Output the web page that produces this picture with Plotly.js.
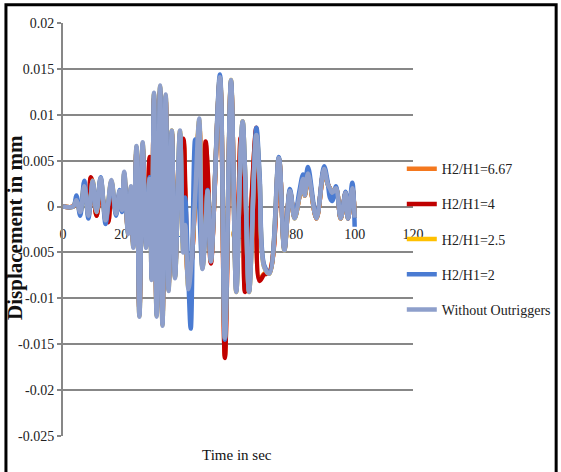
<!DOCTYPE html>
<html>
<head>
<meta charset="utf-8">
<script src="https://cdn.plot.ly/plotly-3.0.1.min.js"></script>
<style>html,body{margin:0;padding:0;background:#fff;}#chart{width:561px;height:472px;}</style>
</head>
<body>
<div id="chart"></div>
<script>
// Time (s) shared by all series
const time = [0, 3.5, 4.6, 5.9, 7.3, 8.7, 9.5, 10.2, 11.5, 12.9, 14.6, 15.5, 16.6, 18.2, 19.4, 20.2, 21.0, 22.3, 23.3, 24.1,
  25.2, 26.2, 27.3, 28.5, 29.7, 30.4, 31.2, 32.1, 33.3, 34.1, 35.2, 36.2, 37.3, 38.4, 40.1, 41.2, 41.9, 43.0, 43.8, 45.3,
  46.7, 47.8, 48.9, 49.6, 50.7, 53.8, 55.5, 57.6, 59.4, 60.9, 61.6, 62.4, 63.8, 66.3, 67.4, 69.0, 70.8, 74.0, 75.9, 77.8, 79.4,
  81.0, 82.3, 82.9, 84.0, 86.9, 89.5, 90.7, 91.5, 92.3, 93.6, 95.2, 96.9, 97.7, 99.2, 100.0];

const withoutOutriggers = [0, 0, 0.0007, -0.0006, 0.0022, -0.0010, 0.0010, 0.0028, -0.0006, 0.0031, -0.0015, 0.0004, 0.0029, -0.0008, 0.0017, -0.0004, 0.0038, -0.0030, 0.0022, -0.0045,
  0.0066, -0.0120, 0.0070, -0.0045, 0.0030, -0.0080, 0.0124, -0.0120, 0.0132, -0.0130, 0.0122, -0.0092, 0.0083, -0.0078, 0.0083, -0.0050, -0.0020, -0.0090, -0.0070, 0.0010,
  0.0096, -0.0068, -0.0020, 0.0017, -0.0060, 0.0141, -0.0143, 0.0138, -0.0093, 0.0060, 0.0093, 0.0040, -0.0093, 0.0078, 0.0030, -0.0066, -0.0073, 0.0053, -0.0048, 0.0017, -0.0013,
  0.0010, 0.0030, 0.0012, 0.0036, -0.0013, 0.0041, 0.0025, 0.0020, 0.0015, 0.0020, -0.0013, 0.0015, -0.0013, 0.0020, -0.0012];

const h2 = [0, 0, 0.0012, -0.0010, 0.0028, -0.0013, 0.0008, 0.0026, -0.0004, 0.0032, -0.0019, 0.0002, 0.0027, -0.0010, 0.0018, -0.0006, 0.0036, -0.0028, 0.0020, -0.0042,
  0.0064, -0.0118, 0.0068, -0.0043, 0.0032, -0.0078, 0.0122, -0.0118, 0.0130, -0.0128, 0.0120, -0.0090, 0.0082, -0.0076, 0.0080, -0.0040, 0.0010, -0.0080, -0.0133, 0.0073,
  0.0000, -0.0066, -0.0020, 0.0018, -0.0058, 0.0144, -0.0145, 0.0137, -0.0092, 0.0060, 0.0092, 0.0040, -0.0092, 0.0086, 0.0035, -0.0064, -0.0072, 0.0054, -0.0047, 0.0019, -0.0012,
  0.0016, 0.0035, 0.0022, 0.0043, -0.0012, 0.0044, 0.0028, 0.0010, 0.0006, 0.0022, -0.0012, 0.0016, -0.0013, 0.0026, -0.0022];

const h4 = [0, 0, 0.0005, -0.0004, 0.0018, 0.0005, 0.0032, 0.0025, -0.0010, 0.0016, -0.0008, -0.0017, 0.0012, -0.0004, 0.0014, -0.0003, 0.0030, -0.0026, 0.0018, -0.0040,
  0.0060, -0.0112, 0.0064, -0.0040, 0.0054, -0.0060, 0.0118, -0.0112, 0.0126, -0.0122, 0.0116, -0.0086, 0.0080, -0.0070, 0.0060, 0.0074, 0.0020, -0.0080, -0.0070, 0.0008,
  0.0090, -0.0040, 0.0071, 0.0040, -0.0062, 0.0138, -0.0165, 0.0135, -0.0080, 0.0075, 0.0020, -0.0093, -0.0040, 0.0086, -0.0081, -0.0074, -0.0072, 0.0052, -0.0046, 0.0016, -0.0012,
  0.0010, 0.0030, 0.0012, 0.0035, -0.0013, 0.0040, 0.0025, 0.0020, 0.0015, 0.0019, -0.0013, 0.0015, -0.0013, 0.0019, -0.0012];

const h667 = [0, 0, 0.0005, -0.0004, 0.0018, 0.0004, 0.0031, 0.0025, -0.0010, 0.0017, -0.0008, -0.0016, 0.0012, -0.0004, 0.0014, -0.0003, 0.0030, -0.0026, 0.0018, -0.0040,
  0.0060, -0.0112, 0.0064, -0.0040, 0.0052, -0.0062, 0.0118, -0.0113, 0.0126, -0.0123, 0.0116, -0.0086, 0.0080, -0.0072, 0.0062, 0.0072, 0.0020, -0.0080, -0.0070, 0.0008,
  0.0090, -0.0042, 0.0068, 0.0040, -0.0061, 0.0138, -0.0163, 0.0135, -0.0082, 0.0074, 0.0022, -0.0091, -0.0040, 0.0084, -0.0079, -0.0073, -0.0071, 0.0052, -0.0046, 0.0016, -0.0012,
  0.0010, 0.0030, 0.0012, 0.0035, -0.0013, 0.0040, 0.0025, 0.0020, 0.0015, 0.0019, -0.0013, 0.0015, -0.0013, 0.0019, -0.0012];

const h25 = [0, 0, 0.0008, -0.0007, 0.0024, -0.0011, 0.0010, 0.0028, -0.0006, 0.0030, -0.0015, 0.0004, 0.0028, -0.0008, 0.0014, -0.0004, 0.0036, -0.0029, 0.0021, -0.0044,
  0.0065, -0.0119, 0.0069, -0.0044, 0.0031, -0.0079, 0.0123, -0.0119, 0.0131, -0.0129, 0.0121, -0.0091, 0.0083, -0.0077, 0.0082, -0.0048, -0.0018, -0.0088, -0.0072, 0.0012,
  0.0094, -0.0067, -0.0020, 0.0017, -0.0059, 0.0141, -0.0144, 0.0138, -0.0093, 0.0060, 0.0093, 0.0040, -0.0093, 0.0080, 0.0030, -0.0066, -0.0073, 0.0053, -0.0048, 0.0017, -0.0013,
  0.0010, 0.0030, 0.0012, 0.0036, -0.0013, 0.0041, 0.0025, 0.0020, 0.0015, 0.0020, -0.0013, 0.0015, -0.0013, 0.0020, -0.0012];

const seriesNames = ['H2/H1=6.67', 'H2/H1=4', 'H2/H1=2.5', 'H2/H1=2', 'Without Outriggers'];
const seriesValues = [h667, h4, h25, h2, withoutOutriggers];
const seriesColors = ['#F4781E', '#C00000', '#FFC000', '#4A7BD2', '#8E9FCB'];

const xTickVals = [0, 20, 40, 60, 80, 100, 120];
const yTickVals = [-0.025, -0.02, -0.015, -0.01, -0.005, 0, 0.005, 0.01, 0.015, 0.02];
const yTickText = ['-0.025', '-0.02', '-0.015', '-0.01', '-0.005', '0', '0.005', '0.01', '0.015', '0.02'];

const serif = '"Liberation Serif", "Times New Roman", serif';

const traces = seriesNames.map((n, i) => ({
  x: time, y: seriesValues[i], name: n, type: 'scatter', mode: 'lines',
  legendgroup: 'g' + i,
  line: {color: seriesColors[i], width: 4.5, shape: 'spline', smoothing: 1}
}));

const layout = {
  width: 561, height: 472,
  margin: {l: 63, r: 148, t: 23, b: 36, autoexpand: false},
  paper_bgcolor: '#fff', plot_bgcolor: '#fff',
  showlegend: true,
  legend: {x: 0.968, xanchor: 'left', y: 0.685, yanchor: 'top', traceorder: 'grouped', tracegroupgap: 14,
    font: {family: serif, size: 14, color: '#222'}, bgcolor: 'rgba(0,0,0,0)'},
  xaxis: {range: [0, 120], tickmode: 'array', tickvals: xTickVals, anchor: 'free', position: 0.5556,
    showgrid: false, zeroline: false, showline: false, ticks: 'outside', ticklen: 15, tickcolor: 'rgba(0,0,0,0)',
    layer: 'below traces', tickfont: {family: serif, size: 14, color: '#222'}, fixedrange: true, automargin: false},
  yaxis: {range: [-0.025, 0.02], tickmode: 'array', tickvals: yTickVals, ticktext: yTickText,
    showgrid: true, gridcolor: '#878787', gridwidth: 2, zeroline: false,
    showline: true, linecolor: '#878787', linewidth: 2, ticks: 'outside', ticklen: 4, tickcolor: '#878787', tickwidth: 2,
    tickfont: {family: serif, size: 14, color: '#222'}, fixedrange: true, automargin: false},
  annotations: [
    {text: 'Time in sec', xref: 'paper', yref: 'paper', x: 0.497, y: -0.046, xanchor: 'center', yanchor: 'middle', showarrow: false,
      font: {family: serif, size: 15, color: '#111'}},
    {text: '<b>Displacement in mm</b>', xref: 'paper', yref: 'paper', x: -0.137, y: 0.504, xanchor: 'center', yanchor: 'middle',
      showarrow: false, textangle: -90, font: {family: serif, size: 21, color: '#111'}}
  ],
  shapes: [
    {type: 'rect', xref: 'paper', yref: 'paper', x0: -0.163, x1: 1.409, y0: -0.12, y1: 1.044,
      line: {color: '#000', width: 3}, fillcolor: 'rgba(0,0,0,0)', layer: 'above'}
  ]
};

Plotly.newPlot('chart', traces, layout, {displayModeBar: false, staticPlot: true});
</script>
</body>
</html>
